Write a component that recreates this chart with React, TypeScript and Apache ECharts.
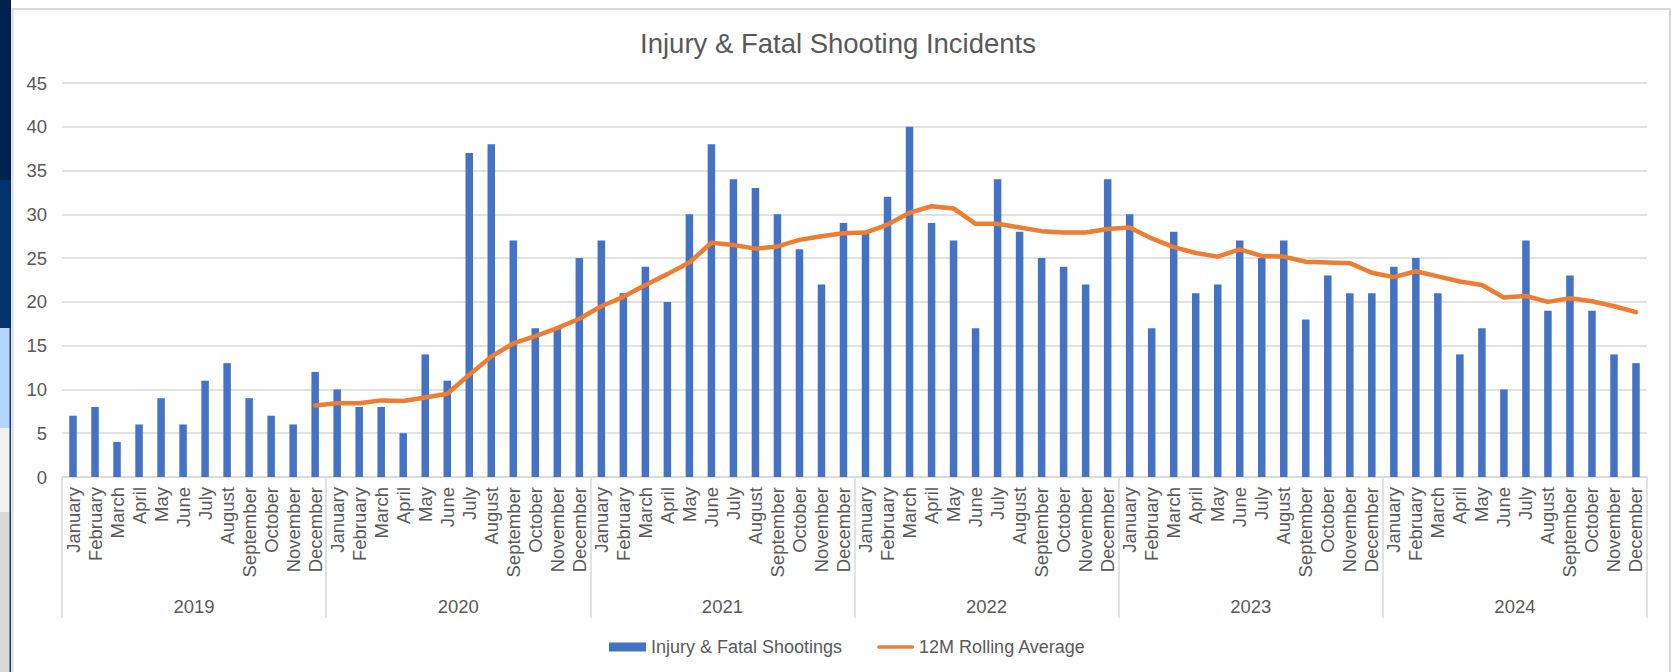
import React, { useEffect, useRef } from "react";
import * as echarts from "echarts";

const months = [
  "January", "February", "March", "April", "May", "June",
  "July", "August", "September", "October", "November", "December",
];
const years = ["2019", "2020", "2021", "2022", "2023", "2024"];

const shootings2019 = [7, 8, 4, 6, 9, 6, 11, 13, 9, 7, 6, 12];
const shootings2020 = [10, 8, 8, 5, 14, 11, 37, 38, 27, 17, 17, 25];
const shootings2021 = [27, 21, 24, 20, 30, 38, 34, 33, 30, 26, 22, 29];
const shootings2022 = [28, 32, 40, 29, 27, 17, 34, 28, 25, 24, 22, 34];
const shootings2023 = [30, 17, 28, 21, 22, 27, 25, 27, 18, 23, 21, 21];
const shootings2024 = [24, 25, 21, 14, 17, 10, 27, 19, 23, 19, 14, 13];

const rolling2019 = [null, null, null, null, null, null, null, null, null, null, null, 8.17];
const rolling2020 = [8.42, 8.42, 8.75, 8.67, 9.08, 9.5, 11.67, 13.75, 15.25, 16.08, 17.0, 18.08];
const rolling2021 = [19.5, 20.58, 21.92, 23.17, 24.5, 26.75, 26.5, 26.08, 26.33, 27.08, 27.5, 27.83];
const rolling2022 = [27.92, 28.83, 30.17, 30.92, 30.67, 28.92, 28.92, 28.5, 28.08, 27.92, 27.92, 28.33];
const rolling2023 = [28.5, 27.25, 26.25, 25.58, 25.17, 26.0, 25.25, 25.17, 24.58, 24.5, 24.42, 23.33];
const rolling2024 = [22.83, 23.5, 22.92, 22.33, 21.92, 20.5, 20.67, 20.0, 20.42, 20.08, 19.5, 18.83];

const yTicks = { min: 0, max: 45, interval: 5 };

const FONT = "'Liberation Sans', Arial, Helvetica, sans-serif";
const TEXT = "#595959";
const GRID = "#d9d9d9";

export default function App() {
  const ref = useRef<HTMLDivElement>(null);

  useEffect(() => {
    if (!ref.current) return;
    const chart = echarts.init(ref.current, null, { renderer: "svg" });

    const categories = years.flatMap(() => months);
    const shootings = [
      ...shootings2019, ...shootings2020, ...shootings2021,
      ...shootings2022, ...shootings2023, ...shootings2024,
    ];
    const rolling = [
      ...rolling2019, ...rolling2020, ...rolling2021,
      ...rolling2022, ...rolling2023, ...rolling2024,
    ];

    chart.setOption({
      animation: false,
      backgroundColor: "#ffffff",
      textStyle: { fontFamily: FONT },
      title: {
        text: "Injury & Fatal Shooting Incidents",
        left: "center",
        top: 24,
        textStyle: { fontFamily: FONT, fontSize: 27.5, fontWeight: "normal", color: TEXT },
      },
      graphic: [
        { type: "rect", silent: true, shape: { x: 0, y: 0, width: 11, height: 180 }, style: { fill: "#00214f" } },
        { type: "rect", silent: true, shape: { x: 0, y: 180, width: 11, height: 148 }, style: { fill: "#00326d" } },
        { type: "rect", silent: true, shape: { x: 0, y: 328, width: 10, height: 100 }, style: { fill: "#b3d4fc" } },
        { type: "rect", silent: true, shape: { x: 0, y: 428, width: 10, height: 84 }, style: { fill: "#f1f1f1" } },
        { type: "rect", silent: true, shape: { x: 0, y: 512, width: 10, height: 160 }, style: { fill: "#d9d9d9" } },
        { type: "rect", silent: true, shape: { x: 9.5, y: 328, width: 1.5, height: 344 }, style: { fill: "#1c3a6a" } },
        {
          type: "rect", silent: true,
          shape: { x: 12.5, y: 9, width: 1657.5, height: 680 },
          style: { fill: "none", stroke: "#d9d9d9", lineWidth: 2 },
        },
      ],
      legend: {
        left: 604,
        top: 633,
        itemWidth: 37,
        itemHeight: 9,
        itemGap: 35,
        textStyle: { fontFamily: FONT, fontSize: 18, color: TEXT },
        data: [
          { name: "Injury & Fatal Shootings", icon: "rect" },
          {
            name: "12M Rolling Average",
            icon: "path://M2,0 L38,0 C40.7,0 40.7,4 38,4 L2,4 C-0.7,4 -0.7,0 2,0 Z",
          },
        ],
      },
      grid: { left: 62, right: 29, top: 83, bottom: 195 },
      xAxis: [
        {
          type: "category",
          data: categories,
          boundaryGap: true,
          axisLine: { show: true, lineStyle: { color: GRID, width: 1.5 } },
          axisTick: { show: false },
          axisLabel: {
            interval: 0,
            rotate: 90,
            margin: 10,
            fontFamily: FONT,
            fontSize: 18.5,
            color: TEXT,
          },
        },
        {
          type: "category",
          data: years,
          position: "bottom",
          boundaryGap: true,
          axisLine: { show: false },
          axisTick: { show: true, length: 141, interval: 0, lineStyle: { color: GRID, width: 1.5 } },
          axisLabel: {
            interval: 0,
            margin: 120,
            fontFamily: FONT,
            fontSize: 18.5,
            color: TEXT,
          },
        },
      ],
      yAxis: {
        type: "value",
        min: yTicks.min,
        max: yTicks.max,
        interval: yTicks.interval,
        axisLine: { show: false },
        axisTick: { show: false },
        splitLine: { lineStyle: { color: GRID, width: 1.5 } },
        axisLabel: { margin: 15, fontFamily: FONT, fontSize: 18.5, color: TEXT },
      },
      series: [
        {
          name: "Injury & Fatal Shootings",
          type: "bar",
          xAxisIndex: 0,
          data: shootings,
          barWidth: 7.5,
          itemStyle: { color: "#4472c4" },
        },
        {
          name: "12M Rolling Average",
          type: "line",
          xAxisIndex: 0,
          data: rolling,
          symbol: "none",
          smooth: false,
          lineStyle: { color: "#ed7d31", width: 4.5, cap: "round", join: "round" },
          itemStyle: { color: "#ed7d31" },
        },
      ],
    });

    return () => chart.dispose();
  }, []);

  return (
    <div
      ref={ref}
      style={{ position: "fixed", left: 0, top: 0, width: 1676, height: 672, background: "#ffffff" }}
    />
  );
}
